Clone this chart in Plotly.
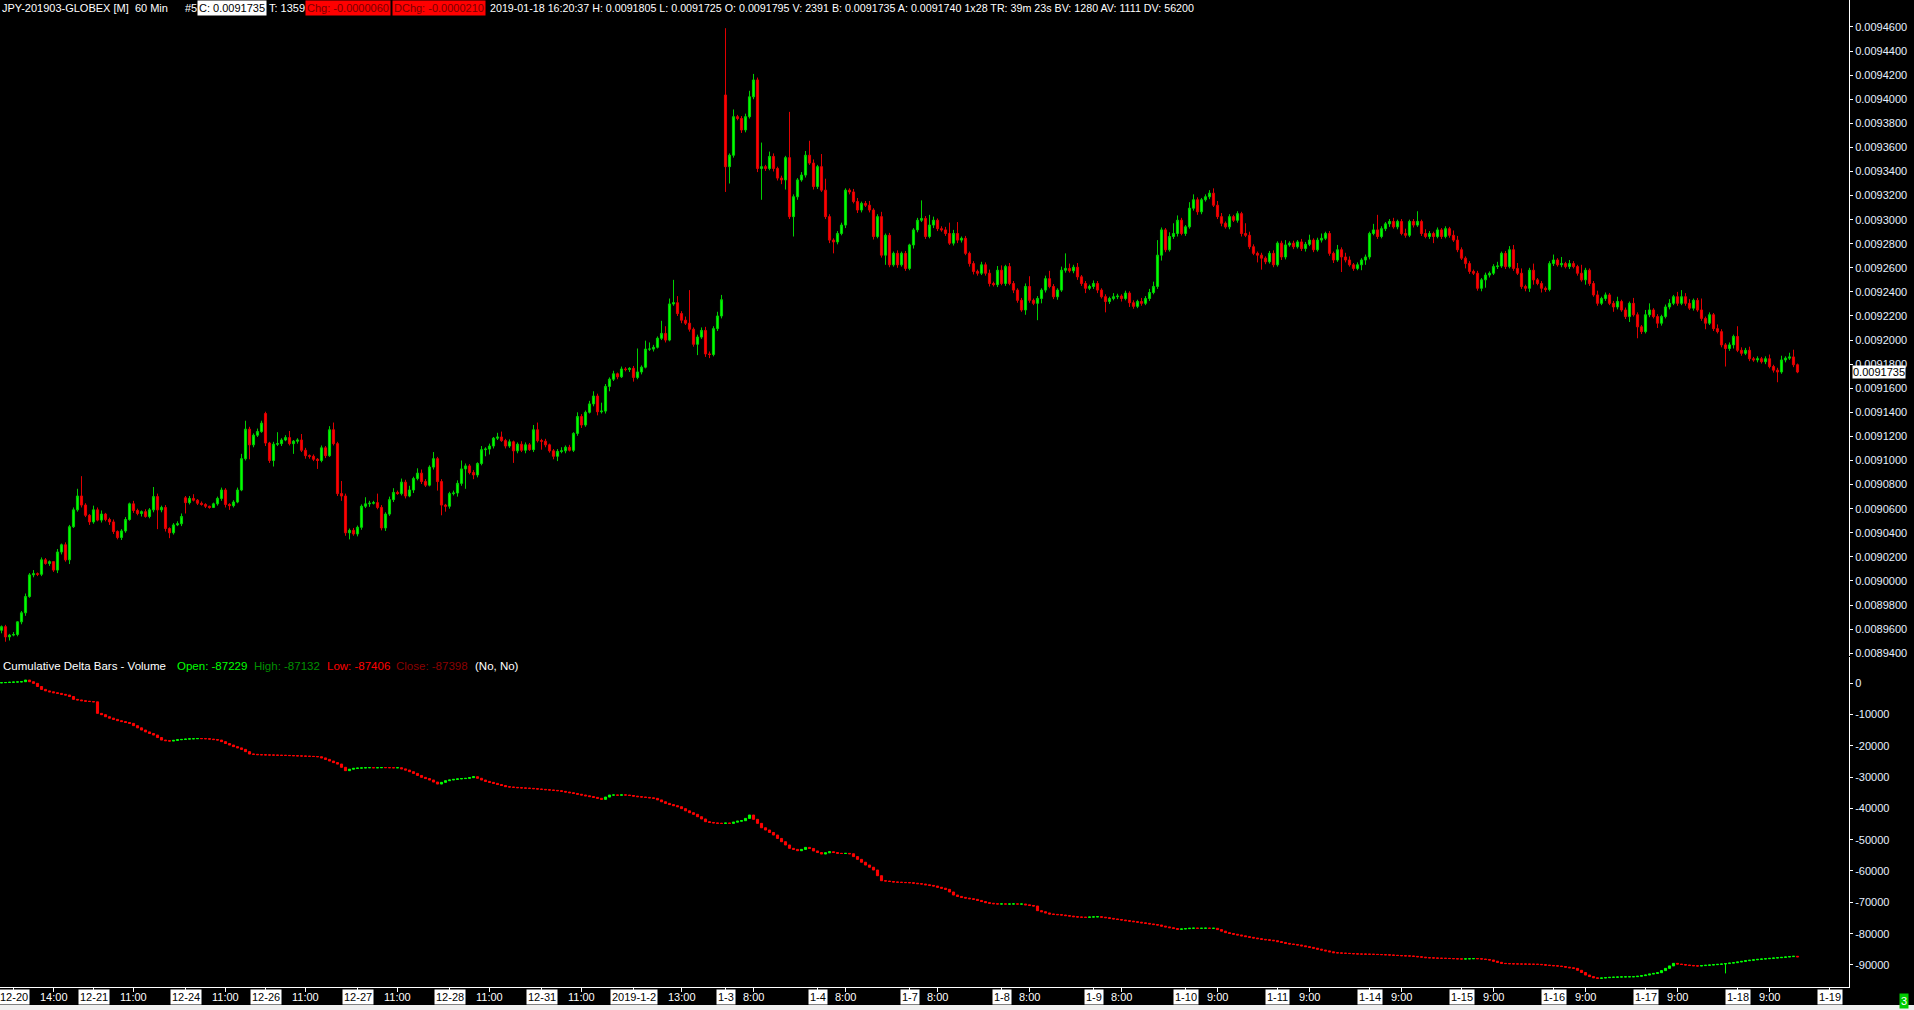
import plotly.graph_objects as go

# ---- price data, 60 min bars, units of 1e-7 ----
price_close = [
    89620, 89535, 89550, 89555, 89660, 89735, 89870, 90050, 90060, 90055,
    90175, 90145, 90160, 90090, 90240, 90300, 90175, 90450, 90590, 90705,
    90630, 90545, 90490, 90590, 90505, 90555, 90510, 90490, 90410, 90360,
    90415, 90510, 90640, 90585, 90560, 90575, 90535, 90590, 90700, 90590,
    90610, 90435, 90400, 90465, 90475, 90535, 90650, 90685, 90670, 90645,
    90635, 90620, 90610, 90640, 90685, 90755, 90635, 90625, 90655, 90755,
    91015, 91260, 91130, 91210, 91240, 91310, 91145, 91000, 91135, 91140,
    91170, 91190, 91140, 91160, 91170, 91085, 91040, 91035, 91010, 91000,
    91105, 91040, 91255, 91140, 90725, 90705, 90400, 90420, 90390, 90445,
    90620, 90640, 90645, 90650, 90610, 90440, 90555, 90675, 90735, 90725,
    90820, 90705, 90755, 90850, 90895, 90825, 90795, 90945, 91015, 90825,
    90630, 90620, 90725, 90730, 90810, 90930, 90955, 90900, 90880, 90975,
    91090, 91095, 91120, 91185, 91195, 91165, 91120, 91155, 91080, 91135,
    91085, 91130, 91090, 91255, 91165, 91160, 91130, 91080, 91035, 91075,
    91080, 91110, 91085, 91225, 91365, 91295, 91400, 91470, 91535, 91405,
    91410, 91615, 91675, 91720, 91695, 91760, 91755, 91765, 91690, 91735,
    91775, 91925, 91925, 91940, 92015, 92055, 92000, 92300, 92310, 92220,
    92165, 92140, 92090, 91965, 92025, 92080, 91885, 91880, 92095, 92200,
    92335,
    93440, 93535, 93855, 93840, 93745, 93855, 94020, 94160, 93425, 93440,
    93425, 93525, 93425, 93345, 93330, 93515, 93025, 93190, 93330, 93370,
    93535, 93470, 93275, 93440, 93245, 93025, 92830, 92815, 92885, 92955,
    93245, 93230, 93150, 93080, 93135, 93120, 93080, 92860, 93025, 92705,
    92870, 92625, 92720, 92625, 92720, 92595, 92790, 92915, 92995, 93010,
    92860, 92955, 92995, 92925, 92915, 92885, 92805, 92885, 92830, 92845,
    92720, 92635, 92570, 92555, 92625, 92555, 92470, 92460, 92580, 92470,
    92610, 92470, 92415, 92330, 92250, 92445, 92330, 92305, 92345, 92415,
    92510, 92445, 92360, 92415, 92580, 92595, 92575, 92605, 92525, 92470,
    92430, 92445, 92470, 92415, 92360, 92320, 92345, 92360, 92365, 92345,
    92390, 92310, 92280, 92320, 92305, 92345, 92395, 92445, 92705, 92915,
    92750, 92860, 92885, 92995, 92885, 92940, 93095, 93165, 93065, 93165,
    93190, 93220, 93120, 93025, 92970, 92940, 93025, 92995, 93050, 92885,
    92870, 92775, 92720, 92705, 92680, 92650, 92720, 92625, 92805, 92690,
    92790, 92805, 92775, 92815, 92760, 92795, 92830, 92750, 92830, 92845,
    92885, 92720, 92665, 92750, 92690, 92665, 92625, 92595, 92625, 92665,
    92690, 92885, 92915, 92860, 92925, 92965, 92985, 92940, 92985, 92885,
    92870, 92985, 92955, 92985, 92885, 92860, 92885, 92860, 92915, 92860,
    92925, 92870, 92830, 92750, 92680, 92635, 92570, 92555, 92430, 92500,
    92540, 92555, 92610, 92615, 92720, 92610, 92750, 92595, 92555, 92445,
    92430, 92580, 92500, 92470, 92430, 92420, 92635, 92665, 92625, 92635,
    92610, 92635, 92610, 92555, 92500, 92580, 92470, 92375, 92305, 92345,
    92375, 92305, 92275, 92320, 92250, 92195, 92305, 92210, 92110, 92070,
    92210, 92250, 92195, 92140, 92195, 92275, 92305, 92360, 92305, 92360,
    92305, 92265, 92330, 92250, 92180, 92140, 92210, 92095, 92070, 91960,
    91930, 91960, 92030, 91915, 91890, 91915, 91845, 91835, 91845, 91820,
    91845, 91780, 91750, 91735, 91835, 91850, 91860, 91795, 91735,
]

# opens that gap away from the prior close (session starts)
gap_open = {0: 89590, 46: 90690, 66: 91390, 181: 94035}

upper_wick = [
    10, 15, 10, 20, 5, 15, 25, 15, 30, 10, 20, 15, 10, 5, 25, 10, 20, 15, 20, 60, 165, 15, 10, 35, 20, 30, 10, 15, 20, 10,
    15, 20, 10, 25, 15, 10, 20, 15, 80, 25, 15, 20, 10, 15, 20, 25, 15, 20, 35, 10, 15, 10, 5, 10, 15, 20, 15, 10, 15, 20,
    40, 70, 20, 15, 25, 20, 15, 10, 20, 95, 15, 20, 55, 10, 15, 50, 20, 10, 15, 10, 20, 15, 30, 60, 15, 105, 20, 15, 20, 15,
    15, 55, 20, 15, 75, 20, 15, 25, 35, 15, 30, 20, 35, 15, 40, 30, 20, 15, 55, 15, 20, 10, 15, 20, 25, 70, 20, 15, 20, 10,
    30, 15, 20, 10, 35, 45, 15, 20, 10, 15, 25, 20, 15, 40, 60, 15, 20, 10, 15, 20, 30, 15, 20, 10, 35, 20, 15, 25, 40, 20,
    70, 20, 15, 25, 10, 20, 15, 10, 20, 195, 15, 70, 55, 20, 15, 105, 60, 45, 190, 55, 20, 30, 275, 15, 20, 25, 30, 20, 20, 35,
    40, 555, 15, 60, 15, 20, 25, 50, 50, 20, 200, 15, 40, 25, 15, 20, 15, 380, 20, 15, 25, 35, 120, 30, 15, 105, 95, 20, 15, 20,
    20, 15, 15, 25, 30, 15, 20, 35, 15, 20, 40, 15, 20, 15, 25, 15, 20, 10, 15, 20, 150, 20, 85, 30, 15, 20, 25, 90, 30, 95,
    15, 20, 15, 20, 15, 25, 20, 30, 15, 35, 40, 15, 30, 20, 15, 20, 25, 85, 15, 20, 15, 25, 65, 20, 15, 30, 125, 40, 20, 35,
    15, 20, 15, 25, 20, 15, 20, 15, 30, 20, 15, 20, 15, 20, 15, 30, 20, 30, 40, 125, 20, 15, 35, 85, 40, 20, 15, 50, 45, 20,
    15, 20, 25, 40, 35, 30, 15, 20, 15, 20, 15, 85, 30, 20, 15, 20, 15, 20, 25, 15, 20, 40, 15, 20, 15, 25, 20, 45, 15, 20,
    40, 15, 20, 15, 40, 20, 35, 30, 15, 20, 15, 20, 15, 50, 125, 20, 15, 20, 30, 15, 20, 40, 15, 20, 85, 15, 35, 20, 15, 20,
    15, 20, 15, 40, 35, 20, 15, 20, 15, 20, 15, 20, 15, 20, 35, 15, 20, 30, 40, 45, 40, 15, 20, 55, 15, 20, 15, 20, 45, 15,
    55, 15, 30, 20, 15, 70, 20, 15, 20, 35, 15, 20, 15, 20, 40, 15, 20, 15, 45, 20, 15, 40, 55, 15, 20, 15, 20, 35, 15, 40,
    55, 30, 35, 15, 20, 95, 15, 20, 15, 35, 20, 15, 20, 15, 85, 25, 20, 30, 15, 20, 15, 20, 35, 15, 20, 35, 15, 35, 60, 10,
]

lower_wick = [
    25, 40, 30, 10, 15, 20, 25, 10, 20, 15, 15, 10, 20, 15, 25, 20, 15, 35, 10, 15, 20, 15, 25, 15, 10, 20, 15, 25, 20, 15,
    20, 15, 10, 20, 15, 25, 10, 15, 20, 160, 20, 25, 45, 15, 10, 20, 90, 15, 10, 15, 10, 15, 10, 5, 15, 20, 25, 35, 15, 10,
    10, 15, 120, 20, 15, 10, 25, 20, 50, 15, 20, 10, 15, 85, 20, 15, 25, 20, 15, 70, 15, 20, 10, 15, 20, 40, 25, 55, 15, 20,
    20, 15, 25, 10, 15, 20, 25, 15, 20, 10, 15, 20, 10, 25, 15, 20, 15, 10, 20, 75, 85, 45, 20, 15, 30, 20, 165, 15, 35, 20,
    15, 55, 45, 20, 15, 10, 20, 15, 100, 20, 15, 25, 10, 20, 15, 70, 20, 15, 25, 40, 15, 20, 10, 15, 20, 25, 15, 10, 20, 30,
    15, 20, 40, 15, 20, 10, 15, 20, 35, 15, 20, 10, 15, 20, 10, 15, 20, 10, 15, 20, 25, 15, 20, 20, 90, 15, 25, 30, 15, 20,
    20, 210, 140, 20, 15, 25, 20, 15, 20, 30, 260, 20, 15, 25, 20, 35, 80, 20, 165, 25, 15, 20, 15, 25, 20, 15, 20, 25, 95, 20,
    15, 25, 20, 15, 25, 20, 15, 20, 25, 15, 20, 80, 20, 15, 25, 15, 20, 15, 30, 20, 15, 20, 15, 25, 20, 15, 20, 15, 20, 25,
    20, 15, 25, 25, 20, 15, 20, 25, 15, 20, 15, 20, 15, 25, 20, 15, 40, 20, 15, 140, 40, 20, 15, 20, 25, 15, 20, 15, 20, 25,
    20, 40, 15, 20, 25, 15, 90, 20, 15, 20, 25, 15, 35, 20, 15, 20, 15, 20, 15, 20, 45, 20, 15, 20, 25, 15, 20, 15, 20, 25,
    20, 15, 20, 15, 20, 25, 15, 20, 15, 20, 25, 15, 20, 15, 60, 95, 20, 15, 20, 15, 25, 20, 15, 20, 15, 20, 25, 15, 20, 15,
    20, 15, 20, 25, 15, 125, 20, 15, 20, 15, 45, 40, 20, 15, 20, 15, 20, 25, 15, 20, 15, 20, 15, 20, 15, 20, 15, 20, 55, 15,
    20, 15, 20, 15, 20, 15, 40, 20, 15, 20, 25, 65, 20, 15, 20, 15, 20, 15, 20, 15, 20, 25, 30, 40, 15, 35, 20, 15, 20, 15,
    20, 15, 20, 15, 20, 15, 40, 20, 15, 20, 15, 20, 15, 40, 20, 15, 20, 45, 15, 95, 20, 15, 20, 15, 40, 20, 15, 20, 15, 20,
    15, 20, 15, 20, 15, 20, 50, 15, 20, 15, 20, 150, 20, 30, 15, 20, 15, 20, 15, 20, 15, 20, 15, 20, 85, 15, 20, 15, 20, 10,
]

# ---- cumulative delta (volume) ----
delta_close = [
    120, 180, 250, 310, 360, 420, 960, 420, -100, -1100,
    -2020, -2500, -2800, -3090, -3300, -3600, -3830, -4300, -5210, -5400,
    -5640, -5800, -5900, -6000, -9680, -10100, -10750, -11200, -11600, -12020,
    -12300, -12600, -12870, -13600, -14300, -15000, -15600, -16100, -16600, -17400,
    -18200, -18400, -18520, -18300, -18100, -18000, -17900, -17800, -17770, -17700,
    -17750, -17770, -17900, -18050, -18200, -18700, -19300, -19790, -20300, -20700,
    -21170, -21900, -22660, -22750, -22870, -22900, -22950, -22980, -23000, -23050,
    -23090, -23100, -23150, -23200, -23250, -23300, -23350, -23400, -23450, -23520,
    -23900, -24370, -24900, -25400, -25860, -26900, -27970, -27500, -27240, -27150,
    -27100, -27030, -27000, -27050, -27030, -26980, -27000, -27030, -27050, -27030,
    -27400, -27780, -28300, -28840, -29500, -30110, -30500, -30960, -31600, -32240,
    -31700, -31180, -30950, -30750, -30600, -30500, -30430, -30200, -29900, -30400,
    -30960, -31400, -31700, -32030, -32400, -32700, -33090, -33200, -33300, -33410,
    -33480, -33550, -33620, -33720, -33830, -33940, -34050, -34150, -34260, -34370,
    -34580, -34800, -35010, -35250, -35500, -35750, -36000, -36250, -36500, -36800,
    -37130, -36400, -35750, -35750, -35800, -35700, -35750, -35900, -36100, -36280,
    -36400, -36500, -36650, -36810, -37300, -37900, -38410, -38800, -39150, -39480,
    -40100, -40800, -41390, -41900, -42670, -43400, -44260, -44500, -44650, -44790,
    -44800, -44700, -44790, -44400, -44100, -43940, -43200, -42130, -43500, -44790,
    -46200, -46920, -47700, -48520, -49600, -50650, -51700, -52770, -53100, -53520,
    -53100, -52460, -52800, -53600, -54100, -54580, -54200, -53840, -54100, -54370,
    -54400, -54370, -54500, -55400, -56280, -57200, -58100, -58800, -59690, -61500,
    -63100, -63200, -63350, -63520, -63580, -63650, -63700, -63740, -63900, -64050,
    -64160, -64400, -64600, -64800, -65200, -65500, -65860, -66700, -67670, -68100,
    -68420, -68650, -68850, -69050, -69400, -69750, -70120, -70300, -70450, -70540,
    -70500, -70560, -70540, -70500, -70560, -70540, -70800, -71000, -71180, -72670,
    -73000, -73400, -73740, -73850, -73950, -74060, -74250, -74400, -74590, -74700,
    -74750, -74800, -74700, -74650, -74590, -74750, -74900, -75120, -75300, -75480,
    -75650, -75850, -76000, -76180, -76350, -76550, -76710, -76900, -77100, -77250,
    -77600, -77850, -78100, -78350, -78630, -78500, -78400, -78290, -78250, -78300,
    -78280, -78250, -78300, -78290, -78700, -79200, -79690, -79950, -80200, -80430,
    -80700, -80950, -81180, -81400, -81600, -81820, -81950, -82100, -82250, -82550,
    -82800, -83100, -83300, -83450, -83630, -83900, -84150, -84380, -84650, -84950,
    -85230, -85500, -85800, -86080, -86150, -86220, -86290, -86350, -86430, -86500,
    -86520, -86550, -86580, -86610, -86660, -86700, -86760, -86820, -86900, -86970,
    -87050, -87100, -87140, -87250, -87380, -87500, -87670, -87720, -87780, -87840,
    -87870, -87890, -87940, -87990, -88050, -88100, -88050, -88000, -87960, -87990,
    -88100, -88250, -88420, -88800, -89150, -89480, -89550, -89600, -89650, -89680,
    -89700, -89720, -89750, -89770, -89800, -89900, -90050, -90150, -90250, -90340,
    -90500, -90700, -90900, -91080, -91700, -92400, -93210, -93700, -94100, -94270,
    -94150, -94050, -93950, -93900, -93850, -93800, -93780, -93760, -93740, -93600,
    -93400, -93210, -92900, -92700, -92460, -91800, -91080, -90300, -89480, -89700,
    -89850, -90010, -90150, -90250, -90340, -90200, -90100, -90010, -89900, -89800,
    -89700, -89550, -89400, -89270, -89050, -88850, -88630, -88500, -88350, -88210,
    -88100, -88000, -87890, -87780, -87680, -87570, -87450, -87330, -87229, -87398,
]
delta_first_open = 60
delta_high_extra = {449: -87132}
delta_low_extra = {431: -92680, 449: -87406}

# ---- axis labels ----
day_labels = [(3, "12-20"), (23, "12-21"), (46, "12-24"), (66, "12-26"), (89, "12-27"),
              (112, "12-28"), (135, "12-31"), (158, "2019-1-2"), (181, "1-3"), (204, "1-4"),
              (227, "1-7"), (250, "1-8"), (273, "1-9"), (296, "1-10"), (319, "1-11"),
              (342, "1-14"), (365, "1-15"), (388, "1-16"), (411, "1-17"), (434, "1-18"),
              (457, "1-19")]
time_labels = [(13, "14:00"), (33, "11:00"), (56, "11:00"), (76, "11:00"), (99, "11:00"),
               (122, "11:00"), (145, "11:00"), (170, "13:00"), (188, "8:00"), (211, "8:00"),
               (234, "8:00"), (257, "8:00"), (280, "8:00"), (304, "9:00"), (327, "9:00"),
               (350, "9:00"), (373, "9:00"), (396, "9:00"), (419, "9:00"), (442, "9:00")]
price_ticks = ["0.0089400", "0.0089600", "0.0089800", "0.0090000", "0.0090200", "0.0090400",
               "0.0090600", "0.0090800", "0.0091000", "0.0091200", "0.0091400", "0.0091600",
               "0.0091800", "0.0092000", "0.0092200", "0.0092400", "0.0092600", "0.0092800",
               "0.0093000", "0.0093200", "0.0093400", "0.0093600", "0.0093800", "0.0094000",
               "0.0094200", "0.0094400", "0.0094600"]
delta_ticks = [0, -10000, -20000, -30000, -40000, -50000, -60000, -70000, -80000, -90000]
last_price = "0.0091735"

n = len(price_close)
assert len(upper_wick) == n and len(lower_wick) == n and len(delta_close) == n, \
    (n, len(upper_wick), len(lower_wick), len(delta_close))

bars = list(range(n))
opens, highs, lows = [], [], []
for i, c in enumerate(price_close):
    o = gap_open.get(i, price_close[i - 1] if i else c)
    opens.append(o / 1e7)
    highs.append((max(o, c) + upper_wick[i]) / 1e7)
    lows.append((min(o, c) - lower_wick[i]) / 1e7)
closes = [c / 1e7 for c in price_close]

d_open = [delta_first_open] + delta_close[:-1]
d_high = [delta_high_extra.get(i, max(o, c)) for i, (o, c) in enumerate(zip(d_open, delta_close))]
d_low = [delta_low_extra.get(i, min(o, c)) for i, (o, c) in enumerate(zip(d_open, delta_close))]

GREEN, RED = "#00ff00", "#ff0000"
FONT = "Liberation Sans, Arial, sans-serif"
PLOT_W = 1849
PLOT_H = 987

fig = go.Figure()
fig.add_trace(go.Candlestick(
    x=bars, open=opens, high=highs, low=lows, close=closes,
    xaxis="x", yaxis="y", whiskerwidth=0,
    increasing=dict(fillcolor=GREEN, line=dict(color="#00d000", width=1)),
    decreasing=dict(fillcolor=RED, line=dict(color="#e00000", width=1)),
    showlegend=False, hoverinfo="skip",
))
fig.add_trace(go.Candlestick(
    x=bars, open=d_open, high=d_high, low=d_low, close=delta_close,
    xaxis="x2", yaxis="y2", whiskerwidth=0,
    increasing=dict(fillcolor=GREEN, line=dict(color=GREEN, width=1)),
    decreasing=dict(fillcolor=RED, line=dict(color=RED, width=1)),
    showlegend=False, hoverinfo="skip",
))

xrange = [-0.375, 461.875]
axis_common = dict(showgrid=False, zeroline=False, color="white", automargin=False)
fig.update_layout(
    width=1914, height=1010,
    margin=dict(l=0, r=65, t=0, b=23, autoexpand=False),
    paper_bgcolor="black", plot_bgcolor="black",
    font=dict(family=FONT, size=11, color="white"),
    boxgap=0.25,
    xaxis=dict(domain=[0, 1], anchor="y", range=xrange, showticklabels=False,
               showline=False, ticks="", rangeslider=dict(visible=False), **axis_common),
    xaxis2=dict(domain=[0, 1], anchor="y2", range=xrange, matches="x",
                showline=True, linecolor="white", linewidth=1,
                ticks="outside", ticklen=4, tickcolor="white",
                tickvals=[p for p, _ in day_labels + time_labels], showticklabels=False,
                rangeslider=dict(visible=False), **axis_common),
    yaxis=dict(domain=[0.3353, 1], anchor="x", side="right",
               range=[0.0089376, 0.0094824],
               tickvals=[float(t) for t in price_ticks], ticktext=price_ticks,
               showline=True, linecolor="white", linewidth=1,
               ticks="outside", ticklen=3, tickcolor="white",
               tickfont=dict(size=11, color="#e6f0ff"), **axis_common),
    yaxis2=dict(domain=[0, 0.3343], anchor="x2", side="right",
                range=[-97030, 8300],
                tickvals=delta_ticks, ticktext=[str(t) for t in delta_ticks],
                showline=True, linecolor="white", linewidth=1,
                ticks="outside", ticklen=3, tickcolor="white",
                tickfont=dict(size=11, color="#e6f0ff"), **axis_common),
)

ann = []
# x axis labels: dates boxed in white, times plain
for pos, txt in day_labels:
    ann.append(dict(x=pos, xref="x2", y=0, yref="paper", yanchor="top", yshift=-2,
                    text=txt, showarrow=False, bgcolor="white", borderpad=1,
                    font=dict(size=11, color="black")))
for pos, txt in time_labels:
    ann.append(dict(x=pos, xref="x2", y=0, yref="paper", yanchor="top", yshift=-2,
                    text=txt, showarrow=False, borderpad=1,
                    font=dict(size=11, color="white")))

# header line of the price pane (x in pixels)
header = [
    (0, "JPY-201903-GLOBEX [M]  60 Min", "white", None, 11),
    (183, "#5", "white", None, 11),
    (197, "C: 0.0091735", "black", "white", 11),
    (267, "T: 1359", "white", None, 11),
    (305, "Chg: -0.0000060", "#7a0000", "#ff0000", 11),
    (392, "DChg: -0.0000210", "#7a0000", "#ff0000", 11),
    (488, "2019-01-18 16:20:37 H: 0.0091805 L: 0.0091725 O: 0.0091795 V: 2391 "
          "B: 0.0091735 A: 0.0091740 1x28 TR: 39m 23s BV: 1280 AV: 1111 DV: 56200",
     "white", None, 10.7),
]
for px, txt, col, bg, size in header:
    a = dict(x=px / PLOT_W, xref="paper", xanchor="left", y=1, yref="paper", yanchor="top",
             text=txt, showarrow=False, borderpad=1, font=dict(size=size, color=col))
    if bg:
        a["bgcolor"] = bg
    ann.append(a)

# header of the delta pane
delta_header = [
    (2, "Cumulative Delta Bars - Volume", "white"),
    (176, "Open: -87229", "#00ff00"),
    (253, "High: -87132", "#009000"),
    (326, "Low: -87406", "#ff0000"),
    (395, "Close: -87398", "#8b0000"),
    (474, "(No, No)", "white"),
]
for px, txt, col in delta_header:
    ann.append(dict(x=px / PLOT_W, xref="paper", xanchor="left", y=0.3343, yref="paper",
                    yanchor="top", yshift=-2, text=txt, showarrow=False, borderpad=0,
                    font=dict(size=11.5, color=col)))

# last price marker on the price scale
ann.append(dict(x=1, xref="paper", xanchor="left", xshift=3, y=float(last_price), yref="y",
                yanchor="middle", text=last_price, showarrow=False, bgcolor="white",
                borderpad=0, font=dict(size=11, color="black")))
# status box in the corner
ann.append(dict(x=1904 / PLOT_W, xref="paper", xanchor="center", y=-14 / PLOT_H, yref="paper",
                yanchor="middle", text="3", showarrow=False, bgcolor="#00cc00",
                borderpad=1, font=dict(size=11, color="white")))
fig.update_layout(annotations=ann)

fig.add_shape(type="rect", xref="paper", yref="paper", x0=0, x1=1914 / PLOT_W,
              y0=-18 / PLOT_H, y1=-23 / PLOT_H, fillcolor="#f0f0f0", line=dict(width=0),
              layer="below")

# the page's default body margin would shift the chart by 8px
fig.write_html("out.html", config={"displayModeBar": False},
               post_script="document.body.style.margin='0';")
